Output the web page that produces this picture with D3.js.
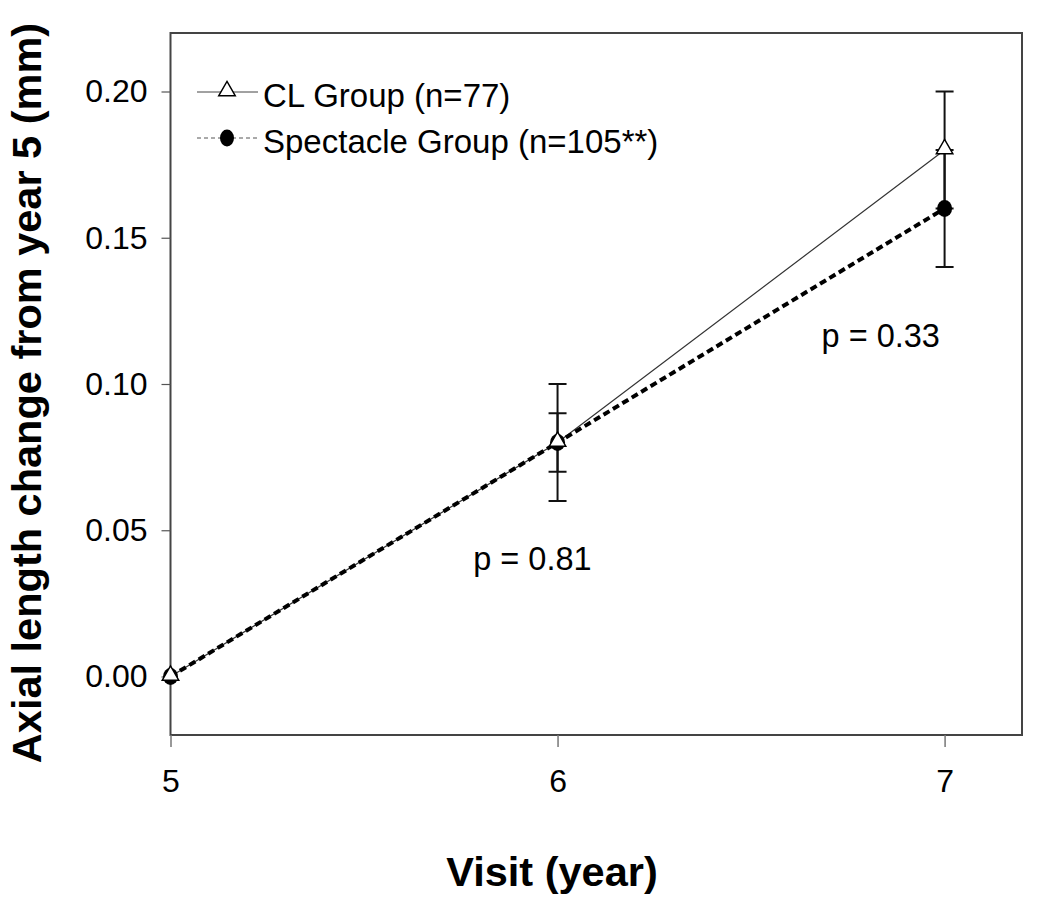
<!DOCTYPE html>
<html><head><meta charset="utf-8">
<script src="https://cdn.jsdelivr.net/npm/d3@7"></script>
<style>body{margin:0;background:#fff}svg{display:block}text{font-family:"Liberation Sans",Arial,sans-serif}</style>
</head><body><svg id="c" width="1050" height="916"></svg>
<script>
const visits = [5, 6, 7];
const clMean = [0, 0.08, 0.18];
const clErr = [0, 0.02, 0.02];
const specMean = [0, 0.08, 0.16];
const specErr = [0, 0.01, 0.02];
const yTicks = [0, 0.05, 0.10, 0.15, 0.20];
const xTicks = [5, 6, 7];
const seriesNames = ["CL Group (n=77)", "Spectacle Group (n=105**)"];
const pLabels = [{x: 5.935, y: 0.0364, t: "p = 0.81"}, {x: 6.835, y: 0.1127, t: "p = 0.33"}];

const svg = d3.select("#c");
const L = 170.5, R = 1022, T = 33, B = 735;
const x = d3.scaleLinear().domain([5, 7.2]).range([L, R]);
const y = d3.scaleLinear().domain([-0.02, 0.22]).range([B, T]);

// frame
svg.append("rect").attr("x", L).attr("y", T).attr("width", R - L).attr("height", B - T)
  .attr("fill", "none").attr("stroke", "#444").attr("stroke-width", 2);

// y axis
const ya = svg.append("g").attr("transform", `translate(${L},0)`)
  .call(d3.axisLeft(y).tickValues(yTicks).tickFormat(d3.format(".2f")).tickSize(9).tickPadding(14));
ya.select(".domain").remove();
ya.selectAll("line").attr("stroke", "#555").attr("stroke-width", 1.2);
ya.selectAll("text").attr("font-size", 32).attr("fill", "#000").attr("font-family", "Liberation Sans, Arial, sans-serif");

// x axis
const xa = svg.append("g").attr("transform", `translate(0,${B})`)
  .call(d3.axisBottom(x).tickValues(xTicks).tickFormat(d3.format("d")).tickSize(12).tickPadding(22));
xa.select(".domain").remove();
xa.selectAll("line").attr("stroke", "#777").attr("stroke-width", 1.5);
xa.selectAll("text").attr("font-size", 32).attr("fill", "#000").attr("font-family", "Liberation Sans, Arial, sans-serif");

// titles
svg.append("text").attr("x", 552).attr("y", 886).attr("text-anchor", "middle")
  .attr("font-size", 41.5).attr("font-weight", "bold").text("Visit (year)");
svg.append("text").attr("transform", "translate(41,393) rotate(-90)").attr("text-anchor", "middle")
  .attr("font-size", 41.5).attr("font-weight", "bold").text("Axial length change from year 5 (mm)");

// error bars
function errBars(mean, err) {
  visits.forEach((v, i) => {
    if (err[i] <= 0) return;
    const g = svg.append("g").attr("stroke", "#111").attr("stroke-width", 2);
    g.append("line").attr("x1", x(v)).attr("x2", x(v)).attr("y1", y(mean[i] - err[i])).attr("y2", y(mean[i] + err[i]));
    [mean[i] - err[i], mean[i] + err[i]].forEach(e => {
      g.append("line").attr("x1", x(v) - 9).attr("x2", x(v) + 9).attr("y1", y(e)).attr("y2", y(e));
    });
  });
}
errBars(specMean, specErr);
errBars(clMean, clErr);

const line = d3.line().x((d, i) => x(visits[i])).y(d => y(d));
svg.append("path").attr("d", line(clMean)).attr("fill", "none").attr("stroke", "#333").attr("stroke-width", 1.2);
svg.append("path").attr("d", line(specMean)).attr("fill", "none").attr("stroke", "#000").attr("stroke-width", 4).attr("stroke-dasharray", "7,4");

// markers
const tri = d3.symbol().type(d3.symbolTriangle).size(120);
specMean.forEach((d, i) => {
  svg.append("ellipse").attr("cx", x(visits[i])).attr("cy", y(d)).attr("rx", 7.5).attr("ry", 8.5).attr("fill", "#000");
});
clMean.forEach((d, i) => {
  svg.append("path").attr("d", tri()).attr("transform", `translate(${x(visits[i])},${y(d) - 1})`)
    .attr("fill", "#fff").attr("stroke", "#000").attr("stroke-width", 1.4);
});

// p labels
pLabels.forEach(p => {
  svg.append("text").attr("x", x(p.x)).attr("y", y(p.y)).attr("text-anchor", "middle")
    .attr("font-size", 32.5).text(p.t);
});

// legend
const lg = svg.append("g");
lg.append("line").attr("x1", 197).attr("x2", 258).attr("y1", 92).attr("y2", 92).attr("stroke", "#444").attr("stroke-width", 1);
lg.append("path").attr("d", tri()).attr("transform", "translate(227,91)").attr("fill", "#fff").attr("stroke", "#000").attr("stroke-width", 1.4);
lg.append("line").attr("x1", 197).attr("x2", 258).attr("y1", 138).attr("y2", 138).attr("stroke", "#555").attr("stroke-width", 1).attr("stroke-dasharray", "4,3");
lg.append("ellipse").attr("cx", 227).attr("cy", 138).attr("rx", 7).attr("ry", 8.5).attr("fill", "#000");
lg.append("text").attr("x", 263).attr("y", 107).attr("font-size", 33).text(seriesNames[0]);
lg.append("text").attr("x", 263).attr("y", 153).attr("font-size", 33).text(seriesNames[1]);
</script></body></html>
